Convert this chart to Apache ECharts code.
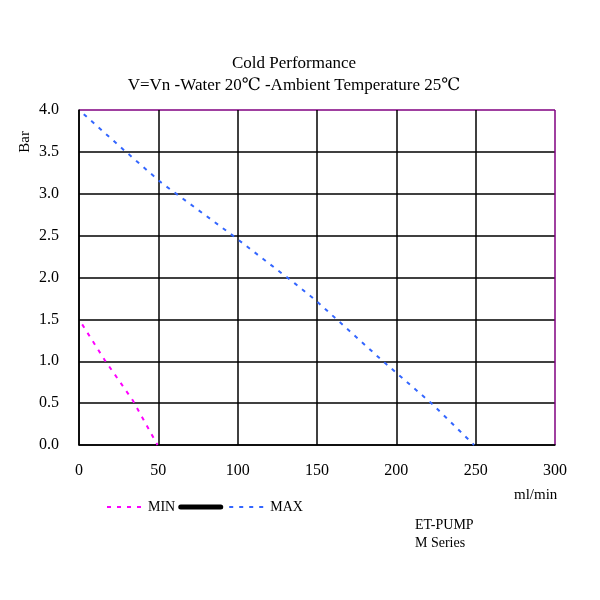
<!DOCTYPE html>
<html>
<head>
<meta charset="utf-8">
<script src="https://cdn.jsdelivr.net/npm/echarts@6/dist/echarts.min.js"></script>
<style>
  html, body { margin: 0; padding: 0; background: #fff; }
  #chart { width: 600px; height: 600px; }
</style>
</head>
<body>
<div id="chart"></div>
<script>
// flow (ml/min), pressure (Bar)
const minFlow = [2, 16, 34, 49.5]
const minBar = [1.44, 1.02, 0.53, 0]
const maxFlow = [3, 29, 52, 97, 136, 149, 191, 222, 249]
const maxBar = [3.95, 3.51, 3.13, 2.5, 1.93, 1.73, 1.01, 0.5, 0]

const FONT = '"Liberation Serif", "DejaVu Serif", serif'
const PURPLE = '#800080'

const chart = echarts.init(document.getElementById('chart'))
chart.setOption({
  animation: false,
  title: {
    text: 'Cold Performance\nV=Vn -Water 20℃ -Ambient Temperature 25℃',
    left: 289,
    textAlign: 'center',
    top: 48,
    textStyle: { fontFamily: FONT, fontSize: 17, fontWeight: 'normal', color: '#000', lineHeight: 22 },
  },
  grid: { left: 79, right: 45, top: 110, bottom: 155 },
  legend: {
    left: 101,
    top: 495,
    itemWidth: 40,
    itemHeight: 14,
    itemGap: 3,
    itemStyle: { opacity: 0 },
    textStyle: { fontFamily: FONT, fontSize: 14, color: '#000', padding: [0, 0, 0, -4] },
    data: ['MIN', { name: ' ', lineStyle: { width: 5 } }, 'MAX'],
  },
  xAxis: {
    type: 'value',
    min: 0,
    max: 300,
    interval: 50,
    axisLine: { lineStyle: { color: '#000', width: 1.5 } },
    axisTick: { show: false },
    axisLabel: { fontFamily: FONT, fontSize: 16, color: '#000', margin: 18 },
    splitLine: { lineStyle: { color: ['#000', '#000', '#000', '#000', '#000', '#000', PURPLE], width: 1.5 } },
  },
  yAxis: {
    type: 'value',
    min: 0,
    max: 4,
    interval: 0.5,
    axisLine: { show: true, lineStyle: { color: '#000', width: 1.5 } },
    axisTick: { show: false },
    axisLabel: { fontFamily: FONT, fontSize: 16, color: '#000', margin: 20, formatter: (v) => v.toFixed(1) },
    splitLine: { lineStyle: { color: ['#000', '#000', '#000', '#000', '#000', '#000', '#000', '#000', PURPLE], width: 1.5 } },
  },
  graphic: [
    { type: 'text', left: 18, top: 131, rotation: Math.PI / 2, style: { text: 'Bar', font: '15px ' + FONT, fill: '#000' } },
    { type: 'text', left: 514, top: 488, style: { text: 'ml/min', font: '15px ' + FONT, fill: '#000' } },
    { type: 'text', left: 415, top: 516, style: { text: 'ET-PUMP\nM Series', font: '14px ' + FONT, fill: '#000', lineHeight: 18 } },
  ],
  series: [
    {
      name: 'MIN',
      type: 'line',
      symbol: 'none',
      lineStyle: { color: '#ff00ff', width: 2, type: [4, 6] },
      itemStyle: { color: '#ff00ff' },
      data: minFlow.map((x, i) => [x, minBar[i]]),
    },
    {
      name: ' ',
      type: 'line',
      symbol: 'none',
      lineStyle: { color: '#000', width: 5, cap: 'round' },
      itemStyle: { color: '#000' },
      data: [],
    },
    {
      name: 'MAX',
      type: 'line',
      symbol: 'none',
      lineStyle: { color: '#3366ff', width: 2, type: [4, 6] },
      itemStyle: { color: '#3366ff' },
      data: maxFlow.map((x, i) => [x, maxBar[i]]),
    },
  ],
})
</script>
</body>
</html>
